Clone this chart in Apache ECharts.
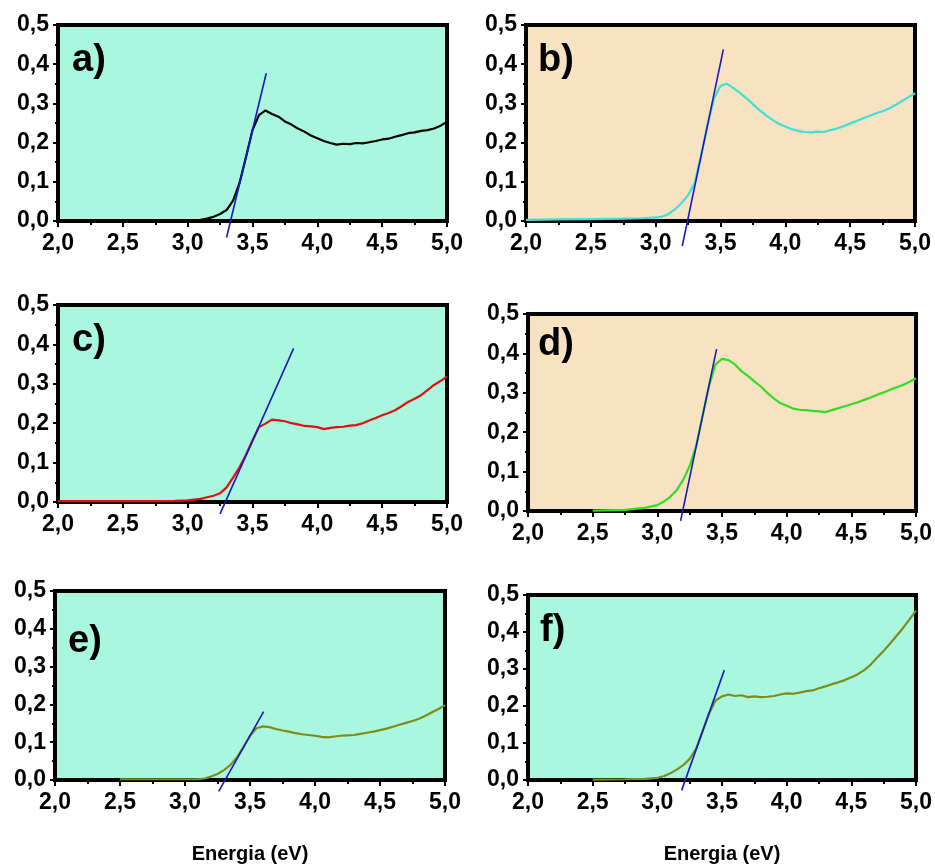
<!DOCTYPE html>
<html><head><meta charset="utf-8">
<script src="https://cdn.jsdelivr.net/npm/echarts@6/dist/echarts.min.js"></script>
<style>html,body{margin:0;padding:0;background:#fff}#c{width:935px;height:865px}</style>
</head><body><div id="c"></div>
<script>
// Energy grid (eV)
const energy = [2.0,2.25,2.5,2.75,2.9,
  3.0,3.05,3.1,3.15,3.2,3.25,3.3,3.35,3.4,3.45,3.5,3.55,3.6,3.65,3.7,3.75,3.8,3.85,3.9,3.95,
  4.0,4.05,4.1,4.15,4.2,4.25,4.3,4.35,4.4,4.45,4.5,4.55,4.6,4.65,4.7,4.75,4.8,4.85,4.9,4.95,5.0];

const absA = [0.001,0.001,0.001,0.001,0.002,
  0.002,0.002,0.003,0.006,0.011,0.018,0.028,0.052,0.097,0.163,0.232,0.270,0.282,0.273,0.266,0.254,0.246,0.236,0.228,0.218,
  0.211,0.204,0.199,0.195,0.197,0.196,0.199,0.198,0.201,0.204,0.208,0.210,0.215,0.219,0.224,0.226,0.230,0.232,0.236,0.243,0.253];
const absB = [0.003,0.004,0.005,0.006,0.007,
  0.009,0.011,0.018,0.030,0.046,0.066,0.096,0.166,0.245,0.312,0.345,0.350,0.339,0.327,0.313,0.298,0.283,0.270,0.258,0.248,
  0.241,0.234,0.230,0.227,0.226,0.228,0.227,0.232,0.236,0.242,0.249,0.255,0.262,0.268,0.275,0.280,0.287,0.296,0.306,0.316,0.326];
const absC = [0.002,0.002,0.002,0.002,0.003,
  0.004,0.006,0.008,0.012,0.016,0.022,0.037,0.062,0.088,0.120,0.156,0.190,0.199,0.209,0.207,0.205,0.200,0.197,0.193,0.192,
  0.190,0.185,0.188,0.190,0.191,0.194,0.195,0.200,0.207,0.213,0.220,0.226,0.233,0.243,0.254,0.262,0.271,0.284,0.297,0.307,0.318];
const absD = [null,null,0.001,0.003,0.008,
  0.015,0.024,0.036,0.053,0.079,0.114,0.165,0.242,0.318,0.372,0.386,0.383,0.372,0.355,0.343,0.329,0.316,0.300,0.286,0.274,
  0.267,0.260,0.257,0.256,0.254,0.253,0.251,0.256,0.261,0.266,0.271,0.276,0.282,0.288,0.295,0.301,0.308,0.314,0.320,0.328,0.337];
const absE = [null,null,0.002,0.002,0.002,
  0.002,0.002,0.002,0.004,0.009,0.016,0.026,0.040,0.060,0.088,0.117,0.137,0.142,0.140,0.135,0.131,0.128,0.124,0.121,0.119,
  0.117,0.114,0.113,0.115,0.117,0.118,0.119,0.122,0.125,0.128,0.132,0.136,0.141,0.146,0.151,0.156,0.162,0.170,0.179,0.188,0.198];
const absF = [null,null,0.001,0.002,0.003,
  0.006,0.010,0.018,0.028,0.040,0.057,0.085,0.132,0.180,0.215,0.226,0.231,0.227,0.229,0.224,0.226,0.224,0.225,0.227,0.231,
  0.234,0.233,0.236,0.240,0.242,0.248,0.253,0.259,0.264,0.270,0.278,0.286,0.297,0.312,0.331,0.349,0.369,0.390,0.411,0.434,0.458];

// Tangent (band-gap extrapolation) lines: [x1,x2], [y1,y2]
const tanAx = [3.30, 3.606], tanAy = [-0.042, 0.377];
const tanBx = [3.205, 3.522], tanBy = [-0.064, 0.438];
const tanCx = [3.25, 3.817], tanCy = [-0.030, 0.390];
const tanDx = [3.18, 3.458], tanDy = [-0.025, 0.411];
const tanEx = [3.259, 3.605], tanEy = [-0.030, 0.181];
const tanFx = [3.188, 3.518], tanFy = [-0.028, 0.297];

const panelLabels = ['a)','b)','c)','d)','e)','f)'];
const xTicks = [2.0, 5.0, 0.5];   // min, max, interval
const yTicks = [0.0, 0.5, 0.1];
const xTitle = 'Energia (eV)';

const panels = [
  {abs: absA, tx: tanAx, ty: tanAy, color: '#000000', bg: '#aaf7e0', grid: {left:58, top:25, width:389, height:196}, lab:[72,62]},
  {abs: absB, tx: tanBx, ty: tanBy, color: '#40e0d8', bg: '#f7e2c2', grid: {left:526, top:25, width:389, height:196}, lab:[538,62]},
  {abs: absC, tx: tanCx, ty: tanCy, color: '#e01010', bg: '#aaf7e0', grid: {left:58, top:305, width:389, height:197}, lab:[72,342]},
  {abs: absD, tx: tanDx, ty: tanDy, color: '#33dd22', bg: '#f7e2c2', grid: {left:528, top:314, width:389, height:197}, lab:[538,346]},
  {abs: absE, tx: tanEx, ty: tanEy, color: '#7f8c1c', bg: '#aaf7e0', grid: {left:55, top:591, width:390, height:196}, lab:[68,643]},
  {abs: absF, tx: tanFx, ty: tanFy, color: '#7f8c1c', bg: '#aaf7e0', grid: {left:528, top:595, width:388, height:197}, lab:[540,632]}
];

const FONT = '"Liberation Sans", Arial, sans-serif';
const comma = v => v.toFixed(1).replace('.', ',');

const grids = [], xAxes = [], yAxes = [], series = [], graphics = [];
panels.forEach((p, i) => {
  grids.push(Object.assign({show: true, backgroundColor: p.bg, borderColor: '#000', borderWidth: 4}, p.grid));
  xAxes.push({
    type: 'value', gridIndex: i, min: xTicks[0], max: xTicks[1], interval: xTicks[2],
    axisLine: {show: true, onZero: false, lineStyle: {color: '#000', width: 4}},
    axisTick: {show: true, inside: false, length: 6, lineStyle: {color: '#000', width: 2}},
    minorTick: {show: true, splitNumber: 2, length: 4, lineStyle: {color: '#000', width: 2}},
    splitLine: {show: false},
    axisLabel: {color: '#000', fontFamily: FONT, fontWeight: 'bold', fontSize: 23, margin: 11, formatter: comma},
    name: i >= 4 ? xTitle : '', nameLocation: 'middle', nameGap: 64,
    nameTextStyle: {color: '#000', fontFamily: FONT, fontWeight: 'bold', fontSize: 20}
  });
  yAxes.push({
    type: 'value', gridIndex: i, min: yTicks[0], max: yTicks[1], interval: yTicks[2],
    axisLine: {show: true, onZero: false, lineStyle: {color: '#000', width: 4}},
    axisTick: {show: true, inside: false, length: 5, lineStyle: {color: '#000', width: 2}},
    minorTick: {show: true, splitNumber: 2, length: 3, lineStyle: {color: '#000', width: 2}},
    splitLine: {show: false},
    axisLabel: {color: '#000', fontFamily: FONT, fontWeight: 'bold', fontSize: 23, margin: 9, formatter: comma}
  });
  series.push({
    type: 'line', xAxisIndex: i, yAxisIndex: i, showSymbol: false, symbol: 'none', z: 3,
    lineStyle: {color: p.color, width: 2.2}, connectNulls: false,
    data: energy.map((e, k) => [e, p.abs[k]])
  });
  series.push({
    type: 'line', xAxisIndex: i, yAxisIndex: i, showSymbol: false, symbol: 'none', clip: false, z: 4,
    lineStyle: {color: '#1a1ab4', width: 1.6},
    data: p.tx.map((x, k) => [x, p.ty[k]])
  });
  graphics.push({
    type: 'text', left: p.lab[0], top: p.lab[1] - 20, z: 10,
    style: {text: panelLabels[i], fill: '#000', font: 'bold 38px ' + FONT}
  });
});

const chart = echarts.init(document.getElementById('c'), null, {renderer: 'canvas'});
chart.setOption({
  animation: false,
  backgroundColor: '#ffffff',
  grid: grids, xAxis: xAxes, yAxis: yAxes, series: series, graphic: graphics
});
</script></body></html>
